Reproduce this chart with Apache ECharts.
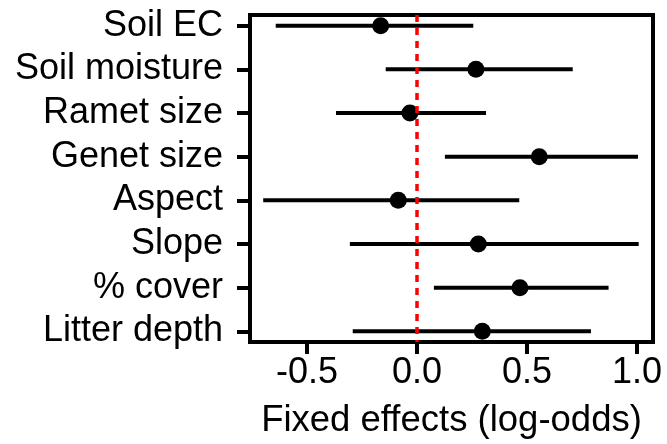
<!DOCTYPE html>
<html>
<head>
<meta charset="utf-8">
<script src="https://cdn.jsdelivr.net/npm/echarts@6/dist/echarts.min.js"></script>
<style>
  html, body { margin: 0; padding: 0; background: #fff; }
  #main { width: 667px; height: 444px; }
</style>
</head>
<body>
<div id="main"></div>
<script>
  // predictors, top to bottom
  var categories = ['Soil EC', 'Soil moisture', 'Ramet size', 'Genet size', 'Aspect', 'Slope', '% cover', 'Litter depth']
  var estimates = [-0.165, 0.268, -0.032, 0.556, -0.085, 0.279, 0.468, 0.297]
  var lower = [-0.642, -0.142, -0.368, 0.127, -0.699, -0.305, 0.077, -0.292]
  var upper = [0.256, 0.708, 0.314, 1.005, 0.465, 1.008, 0.871, 0.791]
  var xTicks = [-0.5, 0, 0.5, 1.0]

  var font = 'Liberation Sans, Arial, Helvetica, sans-serif'
  var rows = categories.map(function (c, i) { return i + 1 })

  var chart = echarts.init(document.getElementById('main'))

  var pointData = estimates.map(function (v, i) { return [v, i + 1] })
  var barData = estimates.map(function (v, i) { return [lower[i], upper[i], i + 1] })

  chart.setOption({
    animation: false,
    grid: {
      left: 250,
      right: 14,
      top: 15,
      bottom: 98,
      show: true,
      borderColor: '#000',
      borderWidth: 4
    },
    xAxis: {
      type: 'value',
      min: -0.759,
      max: 1.073,
      splitLine: { show: false },
      axisLine: { show: false, onZero: false },
      axisTick: {
        show: true,
        customValues: xTicks,
        length: 12,
        lineStyle: { color: '#000', width: 4 }
      },
      axisLabel: {
        customValues: xTicks,
        formatter: function (v) { return v.toFixed(1) },
        color: '#000',
        fontSize: 36,
        fontFamily: font,
        margin: 13
      },
      name: 'Fixed effects (log-odds)',
      nameLocation: 'middle',
      nameGap: 60,
      nameTextStyle: { color: '#000', fontSize: 36.5, fontFamily: font }
    },
    yAxis: {
      type: 'value',
      min: 0.755,
      max: 8.245,
      inverse: true,
      splitLine: { show: false },
      axisLine: { show: false, onZero: false },
      axisTick: {
        show: true,
        customValues: rows,
        length: 13,
        lineStyle: { color: '#000', width: 4 }
      },
      axisLabel: {
        customValues: rows,
        formatter: function (v) { return categories[Math.round(v) - 1] },
        color: '#000',
        fontSize: 36,
        fontFamily: font,
        margin: 27
      }
    },
    series: [
      {
        type: 'custom',
        data: barData,
        z: 2,
        renderItem: function (params, api) {
          var a = api.coord([api.value(0), api.value(2)])
          var b = api.coord([api.value(1), api.value(2)])
          return {
            type: 'line',
            shape: { x1: a[0], y1: a[1], x2: b[0], y2: b[1] },
            style: { stroke: '#000', lineWidth: 4 }
          }
        }
      },
      {
        type: 'scatter',
        data: pointData,
        symbol: 'circle',
        symbolSize: 17,
        itemStyle: { color: '#000', opacity: 1 },
        z: 3
      },
      {
        type: 'scatter',
        data: [],
        z: 5,
        markLine: {
          silent: true,
          symbol: 'none',
          label: { show: false },
          lineStyle: { color: '#ff0000', width: 3.5, type: [7, 6] },
          data: [{ xAxis: 0 }]
        }
      }
    ]
  })
</script>
</body>
</html>
